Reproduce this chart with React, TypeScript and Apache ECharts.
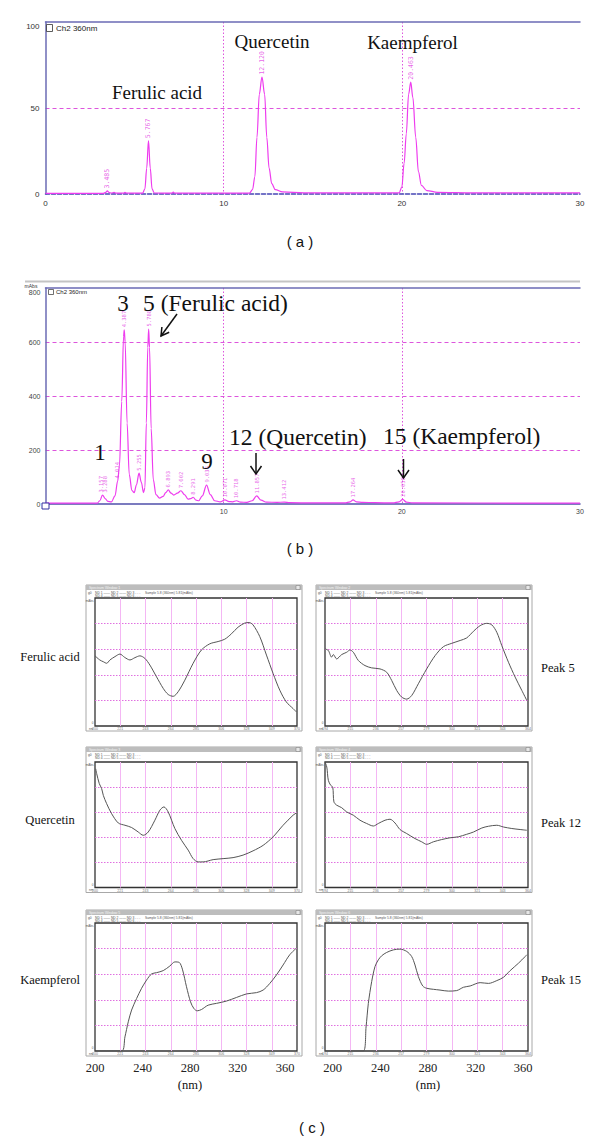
import React, { useEffect, useRef } from "react";
import * as echarts from "echarts";

// ---------- Panel (a): standard mixture chromatogram (time min, mAU) ----------
const chromA: number[][] = [
  [0, 0.4], [3.25, 0.4], [3.38, 0.9], [3.47, 1.8], [3.56, 0.9], [3.7, 0.5], [3.85, 0.9], [3.95, 0.5],
  [4.4, 0.5], [4.46, 0.9], [4.55, 0.5], [5.45, 0.5], [5.58, 3], [5.68, 15], [5.78, 31], [5.88, 15],
  [5.98, 3], [6.1, 0.6], [7.1, 0.5], [7.17, 1.1], [7.25, 0.5], [11.45, 0.5], [11.62, 2.5], [11.75, 10],
  [11.87, 33], [12.0, 58], [12.15, 68], [12.3, 58], [12.42, 33], [12.55, 15], [12.7, 6], [12.9, 2.5],
  [13.3, 1.2], [14.5, 0.7], [19.85, 0.7], [20.0, 4], [20.13, 18], [20.25, 35], [20.38, 58], [20.5, 65],
  [20.62, 56], [20.78, 33], [20.93, 13], [21.1, 5], [21.4, 2], [22, 1], [24, 0.7], [30, 0.7],
];
const peakTimesA = [3.47, 5.78, 12.15, 20.5];
const peakHeightsA = [1.8, 31, 68, 65];
const peakLabelsA = ["3.485", "5.767", "12.120", "20.463"];

// ---------- Panel (b): sample chromatogram ----------
const chromB: number[][] = [
  [0, 3], [2.9, 3], [3.05, 12], [3.2, 33], [3.35, 20], [3.5, 10], [3.7, 8], [3.9, 30], [4.05, 85],
  [4.15, 140], [4.28, 380], [4.38, 620], [4.42, 645], [4.47, 600], [4.58, 300], [4.7, 110], [4.85, 50],
  [4.98, 42], [5.1, 70], [5.25, 114], [5.38, 80], [5.5, 42], [5.58, 60], [5.66, 300], [5.74, 580],
  [5.79, 648], [5.84, 580], [5.93, 280], [6.05, 90], [6.2, 35], [6.4, 22], [6.6, 28], [6.75, 42],
  [6.89, 52], [7.05, 40], [7.2, 33], [7.4, 40], [7.6, 49], [7.8, 35], [8.0, 18], [8.15, 20],
  [8.29, 25], [8.45, 14], [8.6, 12], [8.8, 30], [9.04, 70], [9.25, 35], [9.5, 12], [9.8, 8],
  [10.07, 15], [10.3, 9], [10.5, 8], [10.72, 12], [10.95, 7], [11.3, 6], [11.6, 12], [11.85, 30],
  [12.1, 14], [12.4, 7], [13.0, 6], [13.4, 7], [13.7, 5], [15, 4], [16.8, 4], [17.1, 8], [17.26, 15],
  [17.45, 8], [17.8, 6], [18.5, 5], [19.5, 4], [19.85, 8], [20.05, 17], [20.25, 7], [20.6, 4], [30, 3],
];
const peakTimesB = [3.1, 3.32, 4.01, 4.42, 5.25, 5.79, 6.89, 7.6, 8.29, 9.04, 10.07, 10.72, 11.85, 13.4, 17.26, 20.05];
const peakHeightsB = [33, 33, 85, 645, 114, 648, 52, 49, 25, 70, 15, 12, 30, 7, 15, 17];
const peakLabelsB = ["3.157", "3.288", "4.014", "4.387", "5.255", "5.788", "6.893", "7.602", "8.291",
  "9.036", "10.071", "10.718", "11.857", "13.412", "17.264", "20.058"];

// ---------- Panel (c): UV spectra (nm, relative absorbance in grid divisions) ----------
const ferulicStd: number[][] = [
  [200, 2.74], [204, 2.58], [207, 2.51], [209.8, 2.45], [212.6, 2.58], [216.8, 2.71], [221, 2.81],
  [225, 2.68], [229.4, 2.58], [233.6, 2.67], [237.8, 2.74], [242, 2.64], [246.2, 2.38], [251.8, 1.92],
  [257.4, 1.47], [261.6, 1.23], [265.8, 1.16], [270, 1.34], [275.6, 1.79], [282.6, 2.45], [289.6, 2.97],
  [296.6, 3.21], [303.6, 3.3], [309.2, 3.39], [314.8, 3.6], [320.4, 3.86], [326, 4.02], [329.7, 4.04],
  [333, 3.95], [338.7, 3.49], [344.3, 2.77], [349.9, 2.05], [355.5, 1.4], [361, 0.94], [366.7, 0.68], [369.5, 0.55],
];
const peak5Spec: number[][] = [
  [193.5, 3.01], [196.3, 2.95], [199, 2.69], [200.5, 2.79], [203.3, 2.62], [207.5, 2.79], [211.7, 2.88],
  [214.5, 2.97], [217.3, 2.88], [221.5, 2.56], [227.1, 2.36], [232.7, 2.27], [239.7, 2.23], [245.3, 2.1],
  [249.5, 1.78], [253.7, 1.39], [257.9, 1.13], [262.1, 1.05], [266.3, 1.19], [271.9, 1.65], [278.9, 2.23],
  [286, 2.75], [293, 3.1], [300, 3.23], [307, 3.34], [312.5, 3.44], [318.2, 3.7], [323.8, 3.92],
  [329.4, 4.01], [333.6, 3.95], [337.8, 3.66], [342, 3.14], [347.6, 2.49], [353.2, 1.91], [358.8, 1.39], [363, 1.0],
];
const quercetinStd: number[][] = [
  [200.6, 4.73], [201.4, 4.54], [203.6, 4.14], [205.6, 3.94], [207, 3.67], [209.8, 3.34], [214, 2.94],
  [219.6, 2.57], [225.2, 2.48], [230.8, 2.39], [236.4, 2.21], [240.6, 2.08], [244.8, 2.21], [250.4, 2.68],
  [254.6, 3.08], [258, 3.21], [261.6, 3.01], [267.2, 2.35], [272.8, 1.88], [278.4, 1.49], [282.6, 1.15],
  [286.8, 1.02], [291, 1.02], [299.4, 1.11], [307.8, 1.15], [316.2, 1.19], [324.6, 1.29], [333, 1.46],
  [341.5, 1.68], [349.9, 2.02], [358.3, 2.48], [366.7, 2.88], [369.5, 2.97],
];
const peak12Spec: number[][] = [
  [193.5, 5.0], [195, 4.8], [196.3, 4.27], [198.3, 4.07], [200, 4.0], [201, 3.41], [203.3, 3.28],
  [207.5, 3.18], [211.7, 3.01], [217.3, 2.88], [222.9, 2.68], [228.5, 2.55], [234.1, 2.45], [238.3, 2.55],
  [243.9, 2.68], [248.1, 2.72], [252.3, 2.57], [256.5, 2.31], [262.1, 2.15], [269.1, 1.95], [274.7, 1.82],
  [278.9, 1.72], [284.5, 1.82], [291.5, 1.91], [298.5, 1.98], [305.5, 2.02], [312.5, 2.12], [318.2, 2.21],
  [325.2, 2.37], [330.8, 2.44], [337.8, 2.48], [343.4, 2.41], [350.4, 2.35], [357.4, 2.31], [363, 2.28],
];
const kaempferolStd: number[][] = [
  [200, 0], [222.4, 0], [225.2, 0.55], [228, 1.14], [230.8, 1.6], [235, 2.05], [239.2, 2.45],
  [243.4, 2.77], [247.6, 3.01], [251.8, 3.06], [257.4, 3.14], [263, 3.32], [267.2, 3.48], [270.9, 3.46],
  [273.7, 3.17], [277, 2.51], [280.4, 1.92], [283.2, 1.66], [286, 1.57], [289.6, 1.62], [295.2, 1.79],
  [302.2, 1.86], [310.6, 1.95], [319, 2.09], [327.5, 2.23], [335.9, 2.28], [341.5, 2.38], [347.1, 2.64],
  [352.7, 2.97], [358.3, 3.36], [363.9, 3.76], [369.5, 4.02],
];
const peak15Spec: number[][] = [
  [193.5, 0], [225.7, 0], [228, 0.94], [229.9, 1.86], [232.7, 2.71], [235.5, 3.3], [238.3, 3.56],
  [241.1, 3.72], [245.3, 3.85], [250.9, 3.95], [256.5, 3.98], [262.1, 3.89], [266.3, 3.69], [269.1, 3.36],
  [271.9, 2.91], [275.6, 2.54], [278.9, 2.45], [284.5, 2.41], [290.1, 2.38], [297.1, 2.34], [304.1, 2.36],
  [309.8, 2.49], [315.4, 2.54], [323.8, 2.67], [330.8, 2.64], [337.8, 2.75], [343.4, 2.88], [349, 3.14],
  [356, 3.43], [361.6, 3.69], [363, 3.76],
];
const spectra = [ferulicStd, peak5Spec, quercetinStd, peak12Spec, kaempferolStd, peak15Spec];
const leftNames = ["Ferulic acid", "Quercetin", "Kaempferol"];
const rightNames = ["Peak 5", "Peak 12", "Peak 15"];
const nmTicks = [200, 240, 280, 320, 360];

const SERIF = "'Liberation Serif', 'DejaVu Serif', serif";
const SANS = "'Liberation Sans', Arial, sans-serif";
const MAG = "#ee3cee";
const GRIDMAG = "#dd55dd";
const AXBLUE = "#6b6bb5";

function buildOption() {
  const grids: any[] = [];
  const xAxes: any[] = [];
  const yAxes: any[] = [];
  const series: any[] = [];
  const graphic: any[] = [];

  const hideAll = { axisTick: { show: false }, axisLabel: { show: false }, splitLine: { show: false } };

  // ---- panel a ----
  grids.push({ left: 45.5, top: 22, width: 534.5, height: 172 });
  xAxes.push({
    gridIndex: 0, type: "value", position: "bottom", min: 0, max: 30, interval: 10,
    axisLine: { show: true, lineStyle: { color: "#4646b4", width: 1.5, type: [4, 2] } },
    axisTick: { show: false },
    axisLabel: { fontSize: 8, color: "#333", margin: 5, fontFamily: SANS },
    splitLine: { show: true, showMinLine: false, showMaxLine: false, lineStyle: { color: GRIDMAG, type: [1.5, 2], width: 1 } },
  });
  xAxes.push({ gridIndex: 0, type: "value", position: "top", min: 0, max: 30, axisLine: { show: true, lineStyle: { color: AXBLUE, width: 1.5 } }, ...hideAll });
  yAxes.push({
    gridIndex: 0, type: "value", min: 0, max: 100, interval: 50,
    axisLine: { show: true, lineStyle: { color: AXBLUE, width: 1.5 } },
    axisTick: { show: false },
    axisLabel: {
      fontSize: 8, color: "#333", margin: 6, fontFamily: SANS,
      formatter: (v: number) => (v === 100 ? "{t|100}" : String(v)),
      rich: { t: { fontSize: 8, color: "#333", fontFamily: SANS, padding: [9, 0, 0, 0] } },
    },
    splitLine: { show: true, showMinLine: false, showMaxLine: false, lineStyle: { color: GRIDMAG, type: [4, 3], width: 1 } },
  });

  // ---- panel b ----
  grids.push({ left: 45.5, top: 288, width: 534.5, height: 216 });
  xAxes.push({
    gridIndex: 1, type: "value", position: "bottom", min: 0, max: 30, interval: 10,
    axisLine: { show: true, lineStyle: { color: "#5050aa", width: 1.5 } },
    axisTick: { show: false },
    axisLabel: { fontSize: 7, color: "#444", margin: 4, fontFamily: SANS, showMinLabel: false },
    splitLine: { show: true, showMinLine: false, showMaxLine: false, lineStyle: { color: GRIDMAG, type: [1.5, 2], width: 1 } },
  });
  xAxes.push({ gridIndex: 1, type: "value", position: "top", min: 0, max: 30, axisLine: { show: true, lineStyle: { color: AXBLUE, width: 1.5 } }, ...hideAll });
  yAxes.push({
    gridIndex: 1, type: "value", min: 0, max: 800, interval: 200,
    axisLine: { show: true, lineStyle: { color: AXBLUE, width: 1.5 } },
    axisTick: { show: false },
    axisLabel: {
      fontSize: 7, color: "#444", margin: 5, fontFamily: SANS,
      formatter: (v: number) => (v === 800 ? "{t|800}" : String(v)),
      rich: { t: { fontSize: 7, color: "#444", fontFamily: SANS, padding: [8, 0, 0, 0] } },
    },
    splitLine: { show: true, showMinLine: false, showMaxLine: false, lineStyle: { color: GRIDMAG, type: [4, 3], width: 1 } },
  });

  const peakLabel = (fs: number) => ({
    show: true, position: "top", distance: 2, rotate: 90, align: "left", verticalAlign: "middle",
    formatter: (p: any) => p.data[2], fontSize: fs, color: "#e23ae2", fontFamily: "'DejaVu Sans Mono', monospace",
  });

  series.push({
    type: "line", xAxisIndex: 0, yAxisIndex: 0, data: chromA, showSymbol: false, smooth: 0.35, smoothMonotone: "x",
    lineStyle: { color: MAG, width: 1.2 }, silent: true, z: 3,
  });
  series.push({
    type: "scatter", xAxisIndex: 0, yAxisIndex: 0, symbolSize: 1, itemStyle: { color: "rgba(0,0,0,0)" },
    data: peakTimesA.map((t, i) => [t, peakHeightsA[i], peakLabelsA[i]]), label: peakLabel(6.5), silent: true, z: 4,
  });
  series.push({
    type: "line", xAxisIndex: 2, yAxisIndex: 1, data: chromB, showSymbol: false, smooth: 0.35, smoothMonotone: "x",
    lineStyle: { color: MAG, width: 1.2 }, silent: true, z: 3,
  });
  series.push({
    type: "scatter", xAxisIndex: 2, yAxisIndex: 1, symbolSize: 1, itemStyle: { color: "rgba(0,0,0,0)" },
    data: peakTimesB.map((t, i) => [t, peakHeightsB[i], peakLabelsB[i]]), label: peakLabel(5.5), silent: true, z: 4,
  });

  // ---- panel c windows ----
  const cols = [
    { ox: 86, px: 95, pw: 202, lo: 200, hi: 370 },
    { ox: 316, px: 325, pw: 203, lo: 193.5, hi: 364 },
  ];
  const rows = [
    { oy: 585, py: 598, ph: 128 },
    { oy: 747, py: 762, ph: 125.5 },
    { oy: 910, py: 923, ph: 128 },
  ];
  for (let r = 0; r < 3; r++) {
    for (let c = 0; c < 2; c++) {
      const w = r * 2 + c;
      const col = cols[c];
      const row = rows[r];
      const gi = 2 + w;
      grids.push({ left: col.px, top: row.py, width: col.pw, height: row.ph, show: true, borderColor: "#333", borderWidth: 1.3, backgroundColor: "#fff" });
      const dataX = xAxes.length;
      xAxes.push({
        gridIndex: gi, type: "value", position: "bottom", min: col.lo, max: col.hi,
        axisLine: { show: false }, axisTick: { show: false }, splitLine: { show: false },
        axisLabel: r === 2
          ? { show: true, customValues: nmTicks, fontSize: 12.5, color: "#222", margin: 10, fontFamily: SERIF }
          : { show: false },
      });
      xAxes.push({
        gridIndex: gi, type: "value", position: "bottom", min: 0, max: 8, interval: 1,
        axisLine: { show: false }, axisTick: { show: false },
        splitLine: { show: true, showMinLine: false, showMaxLine: false, lineStyle: { color: "#f4b6f4", width: 1 } },
        axisLabel: {
          show: true, fontSize: 3.5, color: "#777", margin: 1.2, fontFamily: SANS,
          formatter: (v: number) => String(Math.round(col.lo + (v * (col.hi - col.lo)) / 8)),
        },
      });
      const yi = yAxes.length;
      yAxes.push({
        gridIndex: gi, type: "value", min: 0, max: 5, interval: 1,
        axisLine: { show: false }, axisTick: { show: false }, axisLabel: { show: false },
        splitLine: { show: true, showMinLine: false, showMaxLine: false, lineStyle: { color: "#e070e0", type: [1.5, 1.5], width: 1 } },
      });
      series.push({
        type: "line", xAxisIndex: dataX, yAxisIndex: yi, data: spectra[w], showSymbol: false, smooth: 0.3,
        lineStyle: { color: "#555", width: 1 }, silent: true, z: 3,
      });

      const oh = row.py + row.ph + 5 - row.oy;
      graphic.push(
        { type: "rect", z: -10, shape: { x: col.ox, y: row.oy, width: 216, height: oh }, style: { fill: "#fff", stroke: "#a8a8a8", lineWidth: 1 } },
        { type: "rect", z: -9, shape: { x: col.ox, y: row.oy, width: 216, height: 5 }, style: { fill: "#bdbdbd" } },
        { type: "rect", z: -8, shape: { x: col.ox + 210, y: row.oy + 0.5, width: 4, height: 4 }, style: { fill: "#e6e6e6", stroke: "#777", lineWidth: 0.5 } },
        { type: "text", z: 5, x: col.ox + 3, y: row.oy + 2.5, style: { text: "Spectrum Window " + (w + 1), fontSize: 3.5, fill: "#f4f4f4", fontFamily: SANS, verticalAlign: "middle" } },
        { type: "text", z: 5, x: col.ox + 9, y: row.oy + 7.5, style: { text: "ND 1 —— ND 2 —— ND 3 - - -     " + (r === 1 ? "" : "Sample 5.8 (360nm) 5.81(mAbs)"), fontSize: 3.3, fill: "#555", fontFamily: SANS, verticalAlign: "middle" } },
        { type: "text", z: 5, x: col.ox + 9, y: row.oy + 10.5, style: { text: "ND 4 —— ND 5 —— ND 6 - - -", fontSize: 3.3, fill: "#555", fontFamily: SANS, verticalAlign: "middle" } },
        { type: "text", z: 5, x: col.ox + 2, y: row.oy + 8, style: { text: "g0", fontSize: 3.3, fill: "#555", fontFamily: SANS, verticalAlign: "middle" } },
        { type: "text", z: 5, x: col.px - 1.5, y: row.py + 3, style: { text: "mAbs", fontSize: 3, fill: "#555", fontFamily: SANS, align: "right", verticalAlign: "middle" } },
        { type: "text", z: 5, x: col.px - 1.5, y: row.py + row.ph - 3, style: { text: "0", fontSize: 3, fill: "#555", fontFamily: SANS, align: "right", verticalAlign: "middle" } },
        { type: "text", z: 5, x: col.ox + 3, y: row.py + row.ph + 2.5, style: { text: "nm", fontSize: 3, fill: "#555", fontFamily: SANS, verticalAlign: "middle" } },
      );
    }
  }

  const t = (text: string, x: number, y: number, fontSize: number, font: string, align = "center") => ({
    type: "text", z: 6, x, y, style: { text, fontSize, fontFamily: font, fill: "#111", align, verticalAlign: "middle" },
  });

  // panel a annotations
  graphic.push(
    t("Ferulic acid", 157, 92.5, 19, SERIF),
    t("Quercetin", 272, 41, 19, SERIF),
    t("Kaempferol", 412.5, 42, 19, SERIF),
    { type: "rect", z: 6, shape: { x: 46.5, y: 24.5, width: 6, height: 7 }, style: { fill: "#fff", stroke: "#333", lineWidth: 0.8 } },
    { type: "text", z: 6, x: 56, y: 28, style: { text: "Ch2 360nm", fontSize: 8, fontFamily: SANS, fill: "#222", verticalAlign: "middle" } },
    t("( a )", 300, 241, 15, SANS),
  );

  // panel b annotations
  graphic.push(
    { type: "line", z: 6, shape: { x1: 25, y1: 281.5, x2: 580, y2: 281.5 }, style: { stroke: "#c4c4c4", lineWidth: 2 } },
    { type: "text", z: 6, x: 31, y: 285.5, style: { text: "mAbs", fontSize: 5, fontFamily: SANS, fill: "#333", align: "center", verticalAlign: "middle" } },
    { type: "rect", z: 6, shape: { x: 48.5, y: 289.5, width: 5, height: 5 }, style: { fill: "#fff", stroke: "#333", lineWidth: 0.7 } },
    { type: "text", z: 6, x: 56, y: 292, style: { text: "Ch2 360nm", fontSize: 6, fontFamily: SANS, fill: "#222", verticalAlign: "middle" } },
    { type: "rect", z: 6, shape: { x: 42, y: 503, width: 7, height: 6 }, style: { fill: "#fff", stroke: "#3030a0", lineWidth: 1 } },
    t("3", 123, 303, 23, SERIF),
    t("5 (Ferulic acid)", 143, 303, 23.5, SERIF, "left"),
    t("1", 100, 452, 23, SERIF),
    t("9", 207, 461, 23, SERIF),
    t("12 (Quercetin)", 229, 437, 23.5, SERIF, "left"),
    t("15 (Kaempferol)", 383, 436, 23.5, SERIF, "left"),
    { type: "line", z: 6, shape: { x1: 177, y1: 314, x2: 161, y2: 336 }, style: { stroke: "#111", lineWidth: 1.5 } },
    { type: "polyline", z: 6, shape: { points: [[169.2, 332.3], [161, 336], [161.9, 327]] }, style: { stroke: "#111", lineWidth: 1.5, fill: "none" } },
    { type: "line", z: 6, shape: { x1: 256, y1: 453, x2: 256, y2: 474 }, style: { stroke: "#111", lineWidth: 1.5 } },
    { type: "polyline", z: 6, shape: { points: [[250.5, 466], [256, 474], [261.5, 466]] }, style: { stroke: "#111", lineWidth: 1.5, fill: "none" } },
    { type: "line", z: 6, shape: { x1: 403.5, y1: 459, x2: 403.5, y2: 478 }, style: { stroke: "#111", lineWidth: 1.5 } },
    { type: "polyline", z: 6, shape: { points: [[398, 470], [403.5, 478], [409, 470]] }, style: { stroke: "#111", lineWidth: 1.5, fill: "none" } },
    t("( b )", 300, 548, 15, SANS),
  );

  // panel c annotations
  leftNames.forEach((n, i) => graphic.push(t(n, 50, [657, 820, 980][i], 12.5, SERIF)));
  rightNames.forEach((n, i) => graphic.push(t(n, 541, [668, 823, 980][i], 12.5, SERIF, "left")));
  graphic.push(
    t("(nm)", 190, 1085, 12.5, SERIF),
    t("(nm)", 428, 1085, 12.5, SERIF),
    t("( c )", 312, 1127, 15, SANS),
  );

  return {
    animation: false,
    backgroundColor: "#fff",
    grid: grids,
    xAxis: xAxes,
    yAxis: yAxes,
    series,
    graphic: { elements: graphic },
  };
}

export default function App() {
  const ref = useRef<HTMLDivElement>(null);
  useEffect(() => {
    document.body.style.margin = "0";
    const chart = echarts.init(ref.current!, null, { renderer: "svg" });
    chart.setOption(buildOption() as any);
    return () => chart.dispose();
  }, []);
  return <div ref={ref} style={{ width: 600, height: 1142 }} />;
}
